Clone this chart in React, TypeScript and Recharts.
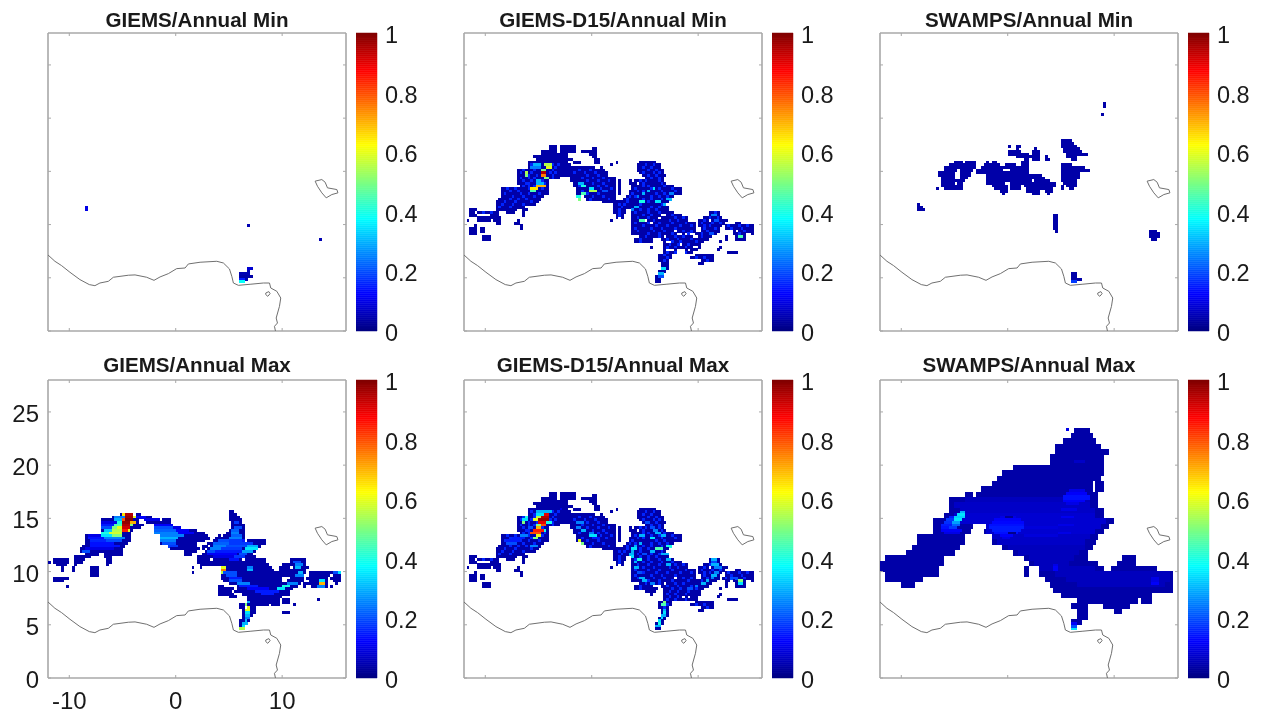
import React from 'react'
import { BarChart, Bar, Scatter, ScatterChart, XAxis, YAxis } from 'recharts'

// spans are [row, firstCol, lastCol, value?] on the 0.25 degree grid (row 0 = lat 0, col 0 = lon -12)
// a value of -1 clears the cells
type Span = number[]

const xTicks = [-10, 0, 10]
const yTicks = [0, 5, 10, 15, 20, 25]
const barTicks = [0, 0.2, 0.4, 0.6, 0.8, 1]
const barSteps = 150

const coast = [[-12.04, 7.18], [-11.35, 6.55], [-10.72, 6.14], [-9.94, 5.52], [-9, 4.83], [-8.12, 4.36], [-7.59, 4.26], [-7.12, 4.51], [-6.33, 4.67], [-5.86, 5.05], [-4.45, 5.24], [-3.82, 5.27], [-2.73, 5.05], [-2.04, 4.76], [-1.47, 5.08], [-0.69, 5.39], [0.09, 5.86], [0.88, 5.92], [1.19, 6.3], [2.29, 6.46], [3.86, 6.55], [4.48, 6.39], [5.05, 5.83], [5.27, 5.14], [5.42, 4.51], [5.89, 4.29], [6.99, 4.39], [8.24, 4.51], [8.81, 4.51], [8.93, 4.04], [9.5, 3.73], [9.87, 3.1], [9.75, 2.32], [9.44, 1.22], [9.56, 0.75], [9.28, 0.44], [9.37, 0]]
const lakeChad = [[13.1, 14.08], [13.73, 14.23], [14.04, 13.98], [14.26, 13.45], [15.14, 13.29], [15.24, 12.98], [14.67, 12.82], [14.14, 12.51], [13.73, 12.98], [13.32, 13.6], [13.1, 14.08]]
const island = [[8.46, 3.57], [8.75, 3.7], [8.87, 3.51], [8.65, 3.26], [8.46, 3.42], [8.46, 3.57]]

const giemsMinCells: Span[] = [
  [46, 14, 14, 0.1], [45, 14, 14, 0.1], [39, 75, 75, 0.05], [34, 102, 102, 0.05],
  [23, 75, 76, 0.08], [22, 75, 75, 0.05], [21, 72, 75, 0.05], [20, 72, 76, 0.04], [19, 72, 74, 0.05], [19, 72, 73, 0.15], [18, 72, 73, 0.38],
]

const giemsMaxBase: Span[] = [
  [62, 68, 69], [61, 27, 31], [61, 33, 34], [61, 68, 70], [60, 24, 32], [60, 33, 38], [60, 68, 71], [59, 20, 33], [59, 36, 41], [59, 43, 45], [59, 68, 72],
  [58, 20, 33], [58, 37, 45], [58, 69, 72], [57, 20, 35], [57, 40, 46], [57, 69, 73], [56, 20, 34], [56, 40, 49], [56, 69, 73], [55, 20, 31], [55, 40, 55], [55, 68, 73],
  [54, 20, 30], [54, 40, 58], [54, 67, 73], [53, 14, 30], [53, 42, 59], [53, 64, 64], [53, 66, 73], [52, 14, 30], [52, 42, 60], [52, 63, 73], [51, 14, 30], [51, 42, 58], [51, 62, 73], [51, 75, 81],
  [50, 14, 29], [50, 42, 55], [50, 60, 81], [49, 13, 28], [49, 45, 55], [49, 58, 59], [49, 61, 79], [48, 12, 27], [48, 46, 56], [48, 58, 58], [48, 60, 78], [47, 12, 27], [47, 51, 55], [47, 59, 77],
  [46, 14, 18], [46, 21, 27], [46, 51, 53], [46, 58, 76], [45, 10, 15], [45, 21, 23], [45, 56, 77], [44, 2, 7], [44, 10, 13], [44, 22, 23], [44, 56, 60], [44, 62, 72], [44, 74, 81], [44, 91, 96],
  [43, 0, 0], [43, 2, 7], [43, 10, 12], [43, 22, 23], [43, 56, 81], [43, 91, 96], [42, 3, 6], [42, 10, 10], [42, 22, 22], [42, 57, 82], [42, 88, 96],
  [41, 5, 5], [41, 9, 9], [41, 16, 18], [41, 54, 54], [41, 57, 57], [41, 65, 83], [41, 87, 90], [41, 92, 96], [41, 97, 97], [40, 5, 5], [40, 9, 9], [40, 16, 18], [40, 65, 84], [40, 87, 96],
  [39, 16, 18], [39, 54, 54], [39, 65, 87], [39, 88, 96], [39, 98, 103], [39, 104, 109], [38, 16, 18], [38, 65, 87], [38, 88, 95], [38, 98, 105], [38, 107, 109],
  [37, 2, 5], [37, 6, 7], [37, 65, 87], [37, 91, 95], [37, 97, 104], [37, 106, 109], [36, 2, 3], [36, 4, 5], [36, 66, 87], [36, 90, 95], [36, 98, 104], [36, 107, 109],
  [35, 68, 94], [35, 96, 104], [35, 108, 108], [34, 7, 7], [34, 64, 65], [34, 71, 93], [34, 96, 96], [34, 99, 104], [34, 106, 106],
  [33, 64, 69], [33, 71, 91], [32, 64, 68], [32, 70, 90], [31, 64, 69], [31, 73, 90], [30, 68, 70], [30, 75, 87], [29, 101, 101], [29, 75, 86], [29, 88, 90], [28, 75, 86], [28, 88, 90],
  [27, 72, 73], [27, 74, 82], [27, 84, 86], [27, 92, 92], [26, 72, 73], [26, 75, 77], [25, 73, 77], [24, 73, 77], [24, 88, 90], [23, 73, 76], [22, 73, 75], [21, 72, 75], [20, 72, 74], [19, 72, 73], [18, 72, 73],
]

const giemsMaxHot: Span[] = [
  [53, 15, 19, 0.1], [52, 15, 20, 0.14], [51, 16, 21, 0.16], [50, 16, 24, 0.14], [49, 16, 26, 0.14], [48, 14, 24, 0.1], [47, 13, 15, 0.2],
  [58, 20, 25, 0.1], [57, 20, 25, 0.15], [56, 20, 23, 0.2], [55, 21, 23, 0.32], [54, 20, 22, 0.4], [53, 20, 23, 0.35], [52, 21, 28, 0.25], [51, 22, 27, 0.2],
  [60, 25, 28, 0.25], [59, 25, 27, 0.3], [58, 26, 28, 0.4], [57, 25, 27, 0.45], [56, 24, 26, 0.5], [56, 26, 27, 0.6], [55, 24, 27, 0.55], [54, 23, 27, 0.58], [53, 24, 27, 0.5],
  [61, 28, 28, 0.65], [61, 29, 31, 0.95], [60, 29, 31, 0.97], [60, 32, 32, 0.6], [59, 29, 31, 1], [59, 28, 28, 0.8], [58, 28, 30, 0.98], [58, 31, 32, 0.7], [57, 28, 30, 0.95], [57, 31, 31, 0.5], [56, 28, 30, 0.92], [55, 28, 29, 0.85], [55, 30, 30, 0.6],
  [60, 33, 36, 0.12], [59, 36, 41, 0.1], [57, 40, 46, 0.12], [56, 40, 46, 0.2], [55, 40, 47, 0.22], [54, 40, 48, 0.25], [53, 42, 50, 0.25], [52, 42, 48, 0.3], [51, 42, 47, 0.25], [50, 43, 47, 0.2], [49, 45, 48, 0.18], [56, 47, 49, 0.1], [55, 48, 52, 0.12], [54, 49, 54, 0.12],
  [45, 62, 70, 0.1], [46, 60, 70, 0.12], [47, 63, 72, 0.15], [48, 65, 72, 0.18], [49, 67, 74, 0.2], [50, 68, 76, 0.18], [51, 72, 73, 0.15],
  [58, 70, 71, 0.18], [56, 70, 72, 0.2], [55, 69, 71, 0.22], [54, 69, 71, 0.25], [53, 69, 72, 0.22], [52, 68, 72, 0.25], [51, 64, 68, 0.2], [51, 68, 72, 0.18], [50, 62, 67, 0.22], [49, 62, 66, 0.25], [48, 61, 64, 0.25], [47, 60, 62, 0.2],
  [49, 75, 78, 0.3], [48, 74, 78, 0.35], [47, 73, 76, 0.28], [46, 72, 74, 0.2], [45, 70, 73, 0.18], [44, 68, 71, 0.14],
  [41, 65, 66, 0.6], [40, 65, 66, 0.75], [39, 65, 66, 0.55], [40, 75, 76, 0.3], [41, 75, 76, 0.25],
  [35, 90, 93, 0.25], [34, 88, 90, 0.4], [33, 86, 88, 0.35], [32, 84, 86, 0.2], [31, 80, 84, 0.15], [38, 93, 95, 0.25], [39, 94, 95, 0.3], [41, 93, 94, 0.3], [42, 93, 95, 0.25], [43, 92, 94, 0.2],
  [35, 102, 103, 0.7], [36, 102, 103, 0.35], [34, 101, 103, 0.25], [39, 107, 109, 0.2], [39, 109, 109, 0.35],
  [39, 66, 70, 0.2], [38, 67, 70, 0.2], [37, 68, 72, 0.15], [36, 68, 72, 0.2], [35, 71, 75, 0.25], [34, 72, 78, 0.15], [33, 75, 82, 0.12], [32, 78, 86, 0.15],
  [28, 75, 75, 0.3], [27, 74, 74, 0.5], [26, 75, 75, 0.6], [25, 74, 75, 0.6], [24, 74, 75, 0.35], [23, 74, 75, 0.3], [22, 74, 75, 0.25], [21, 74, 74, 0.3], [20, 73, 74, 0.3], [19, 73, 73, 0.35], [18, 72, 73, 0.55],
]

const d15Base: Span[] = [
  [69, 32, 34], [69, 36, 41], [68, 32, 34], [68, 36, 41], [68, 48, 49], [67, 29, 34], [67, 36, 41], [67, 44, 49], [66, 29, 38], [66, 47, 49], [65, 26, 38], [65, 48, 49], [64, 27, 40], [64, 49, 50],
  [63, 24, 38], [63, 41, 43], [63, 49, 50], [63, 57, 57], [63, 66, 71], [62, 24, 39], [62, 55, 55], [62, 65, 73], [61, 24, 41], [61, 42, 48], [61, 51, 51], [61, 65, 73], [60, 20, 52], [60, 65, 74],
  [59, 20, 53], [59, 66, 74], [58, 20, 53], [58, 67, 75], [57, 20, 35], [57, 40, 56], [57, 68, 74], [56, 20, 31], [56, 40, 56], [56, 58, 58], [56, 62, 62], [56, 64, 74],
  [55, 20, 31], [55, 41, 56], [55, 58, 58], [55, 62, 64], [55, 66, 75], [54, 21, 31], [54, 41, 56], [54, 58, 58], [54, 63, 65], [54, 66, 78], [53, 14, 31], [53, 42, 56], [53, 58, 58], [53, 63, 81],
  [52, 14, 31], [52, 42, 56], [52, 58, 58], [52, 62, 81], [51, 14, 31], [51, 42, 56], [51, 58, 58], [51, 62, 81], [50, 14, 29], [50, 45, 56], [50, 61, 78], [49, 13, 28], [49, 46, 56], [49, 60, 76],
  [48, 12, 27], [48, 52, 59], [48, 60, 76], [47, 12, 26], [47, 56, 75], [46, 12, 22], [46, 56, 76], [45, 2, 4], [45, 12, 19], [45, 22, 23], [45, 56, 60], [45, 63, 76],
  [44, 2, 3], [44, 5, 12], [44, 16, 18], [44, 22, 22], [44, 56, 60], [44, 63, 78], [44, 92, 95], [43, 2, 4], [43, 10, 12], [43, 22, 22], [43, 57, 59], [43, 63, 81], [43, 92, 95],
  [42, 5, 11], [42, 12, 13], [42, 57, 57], [42, 59, 59], [42, 63, 83], [42, 90, 96], [41, 1, 1], [41, 5, 9], [41, 11, 13], [41, 20, 20], [41, 55, 55], [41, 63, 83], [41, 88, 91], [41, 93, 98],
  [40, 12, 13], [40, 19, 20], [40, 63, 86], [40, 88, 97], [40, 102, 103], [39, 4, 4], [39, 21, 21], [39, 63, 86], [39, 88, 96], [39, 98, 108], [38, 2, 4], [38, 6, 6], [38, 7, 7], [38, 21, 21], [38, 63, 86], [38, 89, 95], [38, 98, 108],
  [37, 2, 4], [37, 6, 6], [37, 7, 7], [37, 63, 78], [37, 80, 86], [37, 89, 95], [37, 97, 101], [37, 103, 108], [36, 2, 4], [36, 63, 87], [36, 88, 94], [36, 98, 99], [36, 101, 105], [36, 108, 108],
  [35, 7, 9], [35, 66, 74], [35, 76, 92], [35, 98, 98], [35, 102, 105], [34, 7, 9], [34, 64, 70], [34, 74, 91], [34, 98, 98], [34, 102, 105], [33, 64, 72], [33, 75, 89], [33, 96, 96],
  [32, 68, 71], [32, 75, 86], [32, 87, 88], [31, 70, 70], [31, 75, 86], [31, 87, 88], [31, 96, 96], [30, 75, 81], [30, 83, 83], [30, 85, 87], [30, 95, 95], [29, 75, 84], [29, 85, 87], [29, 99, 102],
  [28, 73, 77], [28, 87, 89], [28, 90, 93], [27, 73, 77], [27, 85, 93], [26, 73, 76], [26, 89, 93], [25, 74, 76], [25, 88, 89], [24, 74, 76], [23, 74, 76], [22, 73, 75], [21, 73, 74], [20, 72, 74], [19, 72, 73], [18, 72, 73],
]

// single bright-blue cells that give the D15 panels their speckle: [row, [cols]]
const d15Specks: [number, number[]][] = [
  [62, [25, 33, 35, 68, 71]], [61, [26, 34, 67, 70]], [60, [22, 26, 33, 43, 47, 69, 72]], [59, [21, 25, 32, 34, 41, 45, 49, 67, 71, 73]], [58, [24, 27, 33, 46, 50, 69, 72]],
  [57, [21, 24, 26, 33, 44, 48, 52, 70, 73]], [56, [22, 25, 29, 46, 50, 54, 66, 68, 73]], [55, [23, 24, 30, 48, 52, 67, 74]], [54, [22, 24, 26, 30, 43, 50, 53, 67, 69, 75]],
  [53, [16, 19, 24, 29, 51, 55, 64, 70, 73, 78]], [52, [17, 20, 25, 44, 53, 65, 67, 74, 79]], [51, [15, 21, 24, 28, 46, 50, 63, 72, 75]], [50, [18, 22, 26, 48, 52, 62, 64, 70, 73, 76]],
  [49, [17, 20, 23, 47, 54, 61, 67, 70, 74]], [48, [15, 19, 25, 61, 66, 69]], [47, [14, 18, 22, 58, 60, 66, 74]], [46, [13, 17, 59, 65, 70, 73]], [45, [58, 66, 69, 72]],
  [44, [7, 10, 58, 64, 69, 73, 94]], [43, [58, 67, 70, 74, 78, 93]], [42, [65, 69, 73, 79, 82, 92, 95]], [41, [67, 71, 77, 80, 90, 95]], [40, [64, 69, 73, 78, 83, 89, 93, 96]],
  [39, [67, 72, 76, 81, 85, 90, 92, 99, 103, 106]], [38, [64, 70, 74, 79, 90, 94, 100, 104]], [37, [65, 71, 75, 82, 85, 91, 98, 105]], [36, [69, 73, 78, 84, 89, 103]],
  [35, [68, 73, 79, 82]], [34, [66, 76, 80, 85]], [33, [66, 78, 81, 87]], [32, [77, 80, 84]], [31, [76, 79, 83]], [30, [77, 80]], [29, [76, 79, 83]], [28, [75]], [27, [76, 87, 90]], [26, [75, 91]],
]

const d15MaxHot: Span[] = [
  [63, 36, 36, 0.1], [62, 27, 28, 0.3], [61, 27, 29, 0.35], [62, 29, 32, 0.3], [60, 27, 28, 0.55], [59, 26, 27, 0.6], [57, 27, 28, 0.5], [55, 30, 30, 0.4], [58, 31, 32, 0.4],
  [61, 30, 31, 0.9], [60, 29, 31, 0.95], [59, 28, 31, 0.98], [58, 28, 30, 0.9], [57, 29, 30, 0.8], [56, 27, 28, 0.7], [55, 26, 29, 0.85], [54, 25, 28, 0.8], [53, 27, 28, 0.6], [52, 26, 27, 0.5],
  [59, 22, 23, 0.35], [60, 23, 23, 0.4], [58, 22, 22, 0.5], [56, 24, 25, 0.2], [53, 21, 23, 0.25], [52, 18, 22, 0.15], [51, 16, 20, 0.15], [50, 16, 19, 0.2], [49, 25, 27, 0.25],
  [56, 42, 43, 0.25], [55, 44, 45, 0.3], [54, 47, 48, 0.25], [53, 47, 49, 0.35], [52, 48, 50, 0.15], [51, 43, 43, 0.6], [50, 44, 44, 0.5], [58, 42, 44, 0.25],
  [52, 70, 71, 0.35], [53, 66, 67, 0.3], [50, 66, 66, 0.3], [49, 64, 64, 0.3], [48, 63, 64, 0.35], [47, 63, 63, 0.3], [46, 62, 63, 0.3], [45, 63, 63, 0.35], [44, 65, 66, 0.4], [43, 64, 64, 0.3],
  [48, 72, 74, 0.45], [49, 76, 77, 0.4], [47, 70, 71, 0.3], [46, 67, 68, 0.2], [46, 74, 76, 0.3], [44, 76, 77, 0.3], [42, 76, 77, 0.3], [58, 68, 69, 0.2], [56, 70, 71, 0.2], [54, 72, 73, 0.3], [55, 71, 72, 0.25], [53, 74, 75, 0.3],
  [41, 64, 65, 0.3], [39, 65, 66, 0.2], [37, 66, 67, 0.3], [36, 67, 68, 0.3], [35, 70, 71, 0.25], [33, 84, 85, 0.2], [34, 87, 87, 0.25], [35, 89, 90, 0.3], [36, 91, 91, 0.3], [37, 93, 93, 0.25], [38, 93, 94, 0.3], [39, 94, 95, 0.25], [41, 94, 96, 0.25], [42, 93, 95, 0.3], [43, 93, 94, 0.2], [44, 93, 94, 0.3],
  [36, 103, 104, 0.5], [35, 103, 104, 0.35], [37, 100, 102, 0.2], [27, 74, 75, 0.45], [28, 75, 75, 0.5], [25, 75, 75, 0.3], [24, 75, 75, 0.35], [23, 74, 75, 0.3], [22, 74, 74, 0.35], [21, 73, 73, 0.35], [20, 73, 73, 0.4], [19, 72, 73, 0.3],
]

const d15MinEdits: Span[] = [
  [41, 68, 68, -1], [40, 70, 70, -1], [42, 73, 73, -1], [43, 74, 75, -1], [36, 80, 81, -1], [36, 83, 83, -1], [36, 85, 86, -1], [35, 86, 87, -1], [33, 76, 77, -1], [32, 81, 81, -1], [29, 80, 82, -1], [30, 80, 82, -1], [30, 76, 78, -1], [29, 86, 88, -1], [31, 86, 87, -1], [30, 89, 91, -1], [29, 89, 91, -1], [32, 90, 90, -1], [36, 95, 100, -1], [37, 96, 100, -1], [33, 71, 74, -1], [32, 68, 71, -1],
  [59, 29, 30, 0.95], [58, 29, 30, 0.75], [61, 31, 32, 0.6], [62, 30, 32, 0.55], [60, 29, 30, 0.5], [57, 30, 31, 0.5], [54, 27, 30, 0.7], [53, 25, 27, 0.65], [52, 25, 26, 0.45], [59, 23, 23, 0.55], [58, 23, 23, 0.5], [61, 25, 28, 0.25], [62, 26, 28, 0.3], [55, 27, 29, 0.3], [56, 27, 28, 0.3],
  [54, 44, 45, 0.4], [53, 47, 48, 0.35], [52, 47, 49, 0.55], [51, 44, 45, 0.45], [50, 42, 43, 0.4], [49, 43, 43, 0.5], [55, 43, 44, 0.3], [52, 52, 53, 0.2],
  [53, 71, 71, 0.35], [52, 69, 69, 0.3], [51, 67, 67, 0.3], [50, 65, 65, 0.25], [48, 66, 67, 0.4], [48, 72, 73, 0.35], [47, 75, 75, 0.3], [46, 64, 65, 0.3], [45, 63, 63, 0.25], [51, 77, 78, 0.25], [49, 76, 77, 0.3], [41, 66, 67, 0.45], [35, 103, 104, 0.45], [43, 93, 94, 0.25], [41, 94, 95, 0.2], [39, 90, 90, 0.15], [36, 92, 93, 0.2], [35, 89, 89, 0.15], [23, 74, 75, 0.35], [21, 73, 74, 0.3], [20, 73, 74, 0.2],
]

const swampsMinCells: Span[] = [
  [85, 84, 84], [84, 84, 84], [81, 83, 83], [71, 68, 71], [70, 68, 72], [69, 68, 73], [69, 48, 48], [69, 51, 52], [68, 69, 74], [68, 51, 51], [68, 58, 58], [67, 69, 75], [67, 48, 52], [67, 57, 59],
  [66, 48, 55], [66, 57, 59], [66, 70, 77], [65, 51, 59], [65, 62, 62], [65, 70, 73], [64, 54, 55], [64, 57, 59], [64, 62, 63], [64, 72, 73], [63, 28, 30], [63, 32, 35], [63, 40, 40], [63, 42, 43], [63, 53, 55],
  [62, 26, 35], [62, 39, 44], [62, 47, 50], [62, 53, 55], [62, 68, 71], [61, 24, 35], [61, 38, 46], [61, 47, 55], [61, 68, 76], [60, 24, 28], [60, 30, 34], [60, 36, 45], [60, 49, 55], [60, 68, 78],
  [59, 22, 27], [59, 30, 33], [59, 36, 55], [59, 68, 74], [58, 22, 27], [58, 30, 33], [58, 40, 60], [58, 68, 74], [57, 23, 27], [57, 30, 32], [57, 40, 61], [57, 68, 74], [56, 23, 31], [56, 40, 56], [56, 58, 63], [56, 68, 73],
  [55, 23, 27], [55, 29, 30], [55, 40, 46], [55, 49, 65], [55, 69, 73], [54, 23, 30], [54, 42, 47], [54, 49, 52], [54, 54, 65], [54, 68, 68], [54, 70, 73], [53, 21, 21], [53, 24, 30], [53, 43, 47], [53, 49, 52], [53, 55, 64], [53, 68, 68], [53, 71, 72],
  [52, 45, 47], [52, 55, 59], [52, 62, 64], [51, 46, 46], [51, 57, 59], [51, 63, 63], [47, 14, 14], [46, 14, 15], [45, 14, 16],
  [43, 65, 66], [42, 65, 66], [41, 65, 66], [40, 65, 66], [39, 65, 66], [38, 65, 66], [37, 66, 66], [37, 101, 103], [36, 101, 104], [35, 101, 104], [34, 102, 103],
  [21, 72, 73], [20, 72, 73], [19, 72, 75], [18, 72, 73, 0.18],
]

// swamps max outline and mid tones, two grid rows per entry
const swampsMaxBase: Span[] = [
  [92, 73, 78], [90, 72, 79], [88, 69, 80], [86, 66, 82], [84, 66, 85], [82, 64, 83], [80, 64, 83], [78, 50, 83], [76, 46, 83], [74, 44, 82], [72, 42, 79], [72, 81, 83], [70, 38, 79], [70, 81, 83],
  [68, 32, 34], [68, 36, 81], [66, 26, 81], [64, 26, 81], [62, 26, 83], [60, 24, 83], [58, 20, 87], [56, 20, 34], [56, 40, 85], [54, 20, 33], [54, 39, 83], [52, 14, 31], [52, 42, 81], [50, 14, 31], [50, 42, 80],
  [48, 12, 29], [48, 46, 79], [46, 10, 27], [46, 50, 77], [44, 2, 23], [44, 54, 77], [44, 91, 95], [42, 0, 23], [42, 56, 81], [42, 89, 95], [40, 0, 21], [40, 54, 55], [40, 60, 83], [40, 87, 103],
  [38, 2, 21], [38, 54, 55], [38, 60, 109], [36, 2, 15], [36, 62, 109], [34, 8, 12], [34, 64, 109], [32, 65, 109], [30, 68, 101], [28, 74, 96], [28, 98, 101], [26, 72, 77], [26, 84, 93], [24, 74, 77], [24, 88, 90], [22, 74, 77], [20, 72, 75], [18, 72, 73],
]
const swampsMaxMid: Span[] = [
  [66, 32, 78, 0.06], [64, 28, 78, 0.07], [62, 30, 80, 0.07], [60, 28, 80, 0.08], [58, 28, 84, 0.08], [56, 40, 82, 0.08], [54, 40, 80, 0.08], [52, 42, 78, 0.07], [50, 44, 76, 0.07], [48, 48, 76, 0.06],
  [46, 52, 74, 0.06], [44, 56, 72, 0.06], [42, 58, 70, 0.06], [40, 60, 80, 0.06], [38, 66, 108, 0.06], [36, 70, 108, 0.06], [34, 74, 106, 0.06],
]
const swampsMaxHot: Span[] = [
  [93, 70, 70, 0.1], [62, 30, 31, 0.3], [61, 29, 31, 0.35], [60, 28, 31, 0.33], [59, 28, 30, 0.35], [58, 27, 29, 0.28], [57, 27, 29, 0.22], [56, 26, 28, 0.18], [60, 26, 27, 0.15], [59, 25, 27, 0.18], [58, 24, 26, 0.17], [57, 23, 26, 0.15], [56, 23, 25, 0.14], [55, 23, 30, 0.12], [54, 24, 29, 0.1],
  [60, 45, 50, 0.1], [59, 43, 52, 0.12], [58, 42, 53, 0.13], [57, 41, 53, 0.14], [56, 41, 53, 0.15], [55, 42, 52, 0.15], [54, 43, 51, 0.14], [53, 45, 49, 0.12], [52, 46, 48, 0.1], [54, 48, 50, 0.01], [60, 47, 49, 0.02],
  [70, 71, 76, 0.1], [69, 70, 77, 0.12], [68, 69, 78, 0.14], [67, 69, 78, 0.14], [66, 69, 76, 0.12], [65, 70, 74, 0.1],
  [63, 68, 73, 0.1], [60, 68, 72, 0.11], [57, 67, 72, 0.1], [54, 67, 71, 0.1], [56, 54, 66, 0.09], [53, 54, 66, 0.09], [50, 52, 64, 0.07],
  [41, 65, 66, 0.12], [40, 65, 66, 0.12], [42, 65, 66, 0.1], [36, 102, 104, 0.1], [35, 102, 104, 0.12], [37, 102, 104, 0.1],
  [18, 72, 73, 0.35], [19, 72, 73, 0.2], [20, 72, 73, 0.12], [81, 73, 76, 0.07],
]

const darkBlue = 0.04
const speckBlue = 0.16
const plotSize = 298
const cellPx = (plotSize / 28) * 0.25 + 0.3
const gridStep = 0.25

function jet(v: number) {
  const ch = (c: number) => Math.round(255 * Math.max(0, Math.min(1, 1.5 - Math.abs(4 * v - c))))
  return `rgb(${ch(3)},${ch(2)},${ch(1)})`
}

function buildCells(layers: { spans: Span[]; rowsPerSpan?: number }[]) {
  const grid = new Map<string, { lon: number; lat: number; value: number }>()
  layers.forEach(({ spans, rowsPerSpan = 1 }) => {
    spans.forEach(([r, c0, c1, v = darkBlue]) => {
      for (let rr = r; rr < r + rowsPerSpan; rr++) {
        for (let c = c0; c <= c1; c++) {
          const key = `${rr}:${c}`
          if (v < 0) grid.delete(key)
          else grid.set(key, { lon: -12 + (c + 0.5) * gridStep, lat: (rr + 0.5) * gridStep, value: v })
        }
      }
    })
  })
  return Array.from(grid.values())
}

// specks only colour cells that the outline already has, so d15Base has to be checked first
const inOutline = (r: number, c: number) => d15Base.some(([br, c0, c1]) => br === r && c >= c0 && c <= c1)
const speckSpans: Span[] = d15Specks.flatMap(([r, cols]) =>
  cols.filter(c => inOutline(r, c)).map(c => [r, c, c, speckBlue]),
)

const toPoints = (line: number[][]) => line.map(([lon, lat]) => ({ lon, lat }))

const panels = [
  { title: 'GIEMS/Annual Min', left: 48, top: 33, titleUp: 25, labels: false, cells: buildCells([{ spans: giemsMinCells }]) },
  { title: 'GIEMS-D15/Annual Min', left: 464, top: 33, titleUp: 25, labels: false, cells: buildCells([{ spans: d15Base }, { spans: speckSpans }, { spans: d15MinEdits }]) },
  { title: 'SWAMPS/Annual Min', left: 880, top: 33, titleUp: 25, labels: false, cells: buildCells([{ spans: swampsMinCells }]) },
  { title: 'GIEMS/Annual Max', left: 48, top: 380, titleUp: 27, labels: true, cells: buildCells([{ spans: giemsMaxBase }, { spans: giemsMaxHot }]) },
  { title: 'GIEMS-D15/Annual Max', left: 464, top: 380, titleUp: 27, labels: false, cells: buildCells([{ spans: d15Base }, { spans: speckSpans }, { spans: d15MaxHot }]) },
  { title: 'SWAMPS/Annual Max', left: 880, top: 380, titleUp: 27, labels: false, cells: buildCells([{ spans: swampsMaxBase, rowsPerSpan: 2 }, { spans: swampsMaxMid, rowsPerSpan: 2 }, { spans: swampsMaxHot }]) },
]

const axisGray = '#a8a8a8'
const coastGray = '#707070'
const textColor = '#1a1a1a'
const labelFont = '"Liberation Sans", Arial, sans-serif'
const boxLine = { stroke: axisGray, strokeWidth: 1.6 }

const CellShape = (p: any) => (
  <rect x={p.cx - cellPx / 2} y={p.cy - cellPx / 2} width={cellPx} height={cellPx} fill={jet(p.payload.value)} shapeRendering="crispEdges" />
)
const NoShape = () => <g />

function tickFor(side: 'bottom' | 'top' | 'left' | 'right', labels: boolean) {
  return (p: any) => {
    const { x, y, payload } = p
    const len = 3
    const d = { bottom: [0, -len], top: [0, len], left: [len, 0], right: [-len, 0] }[side]
    return (
      <g>
        <line x1={x} y1={y} x2={x + d[0]} y2={y + d[1]} stroke={axisGray} />
        {labels && side === 'bottom' && (
          <text x={x} y={y + 31} textAnchor="middle" fontSize={24} fontFamily={labelFont} fill={textColor}>{payload.value}</text>
        )}
        {labels && side === 'left' && (
          <text x={x - 9} y={y + 10} textAnchor="end" fontSize={24} fontFamily={labelFont} fill={textColor}>{payload.value}</text>
        )}
      </g>
    )
  }
}

const BarTick = (p: any) => (
  <text x={p.x + 8} y={p.y + 10} fontSize={23.5} fontFamily={labelFont} fill={textColor}>{p.payload.value}</text>
)

function Panel({ title, left, top, titleUp, labels, cells }: (typeof panels)[number]) {
  return (
    <>
      <div style={{ position: 'absolute', left, top: top - titleUp, width: plotSize, textAlign: 'center', font: `bold 20.6px/24px ${labelFont}`, color: textColor, whiteSpace: 'nowrap' }}>
        {title}
      </div>
      <div style={{ position: 'absolute', left: left - 45, top: top - 5 }}>
        <ScatterChart width={45 + plotSize + 5} height={5 + plotSize + 40} margin={{ top: 4, right: 4, bottom: 0, left: 0 }}>
          <XAxis xAxisId="b" type="number" dataKey="lon" domain={[-12, 16]} ticks={xTicks} interval={0} height={40} tickSize={0} tickMargin={0} tickLine={false} axisLine={boxLine} tick={tickFor('bottom', labels)} allowDataOverflow />
          <XAxis xAxisId="t" orientation="top" type="number" dataKey="lon" domain={[-12, 16]} ticks={xTicks} interval={0} height={1} tickSize={0} tickMargin={0} tickLine={false} axisLine={boxLine} tick={tickFor('top', false)} allowDataOverflow />
          <YAxis yAxisId="l" type="number" dataKey="lat" domain={[0, 28]} ticks={yTicks} interval={0} width={45} tickSize={0} tickMargin={0} tickLine={false} axisLine={boxLine} tick={tickFor('left', labels)} allowDataOverflow />
          <YAxis yAxisId="r" orientation="right" type="number" dataKey="lat" domain={[0, 28]} ticks={yTicks} interval={0} width={1} tickSize={0} tickMargin={0} tickLine={false} axisLine={boxLine} tick={tickFor('right', false)} allowDataOverflow />
          <Scatter xAxisId="b" yAxisId="l" data={cells} shape={CellShape} isAnimationActive={false} />
          <Scatter xAxisId="b" yAxisId="l" data={toPoints(coast)} shape={NoShape} line={{ stroke: coastGray, strokeWidth: 1 }} isAnimationActive={false} />
          <Scatter xAxisId="b" yAxisId="l" data={toPoints(lakeChad)} shape={NoShape} line={{ stroke: coastGray, strokeWidth: 1 }} isAnimationActive={false} />
          <Scatter xAxisId="b" yAxisId="l" data={toPoints(island)} shape={NoShape} line={{ stroke: coastGray, strokeWidth: 1 }} isAnimationActive={false} />
        </ScatterChart>
      </div>
    </>
  )
}

const barKeys = Array.from({ length: barSteps }, (_, i) => `s${i}`)
const barRow = [Object.fromEntries([['name', 'scale'], ...barKeys.map(k => [k, 1 / barSteps])])]

function ColorBar({ left, top }: { left: number; top: number }) {
  return (
    <div style={{ position: 'absolute', left, top: top - 15 }}>
      <BarChart width={21 + 55} height={plotSize + 30} data={barRow} barCategoryGap={0} margin={{ top: 15, right: 0, bottom: 15, left: 0 }}>
        <XAxis dataKey="name" hide />
        <YAxis orientation="right" type="number" domain={[0, 1]} ticks={barTicks} interval={0} width={55} axisLine={false} tickLine={false} tickSize={0} tickMargin={0} tick={BarTick} />
        {barKeys.map((k, i) => (
          <Bar key={k} dataKey={k} stackId="c" fill={jet((i + 0.5) / barSteps)} stroke={jet((i + 0.5) / barSteps)} strokeWidth={0.5} isAnimationActive={false} />
        ))}
      </BarChart>
    </div>
  )
}

export default function App() {
  return (
    <div style={{ position: 'absolute', left: 0, top: 0, width: 1261, height: 715, background: '#fff', overflow: 'hidden', filter: 'blur(0.45px)' }}>
      {panels.map(p => <Panel key={p.title} {...p} />)}
      {panels.map(p => <ColorBar key={p.title} left={p.left + 308} top={p.top} />)}
    </div>
  )
}
